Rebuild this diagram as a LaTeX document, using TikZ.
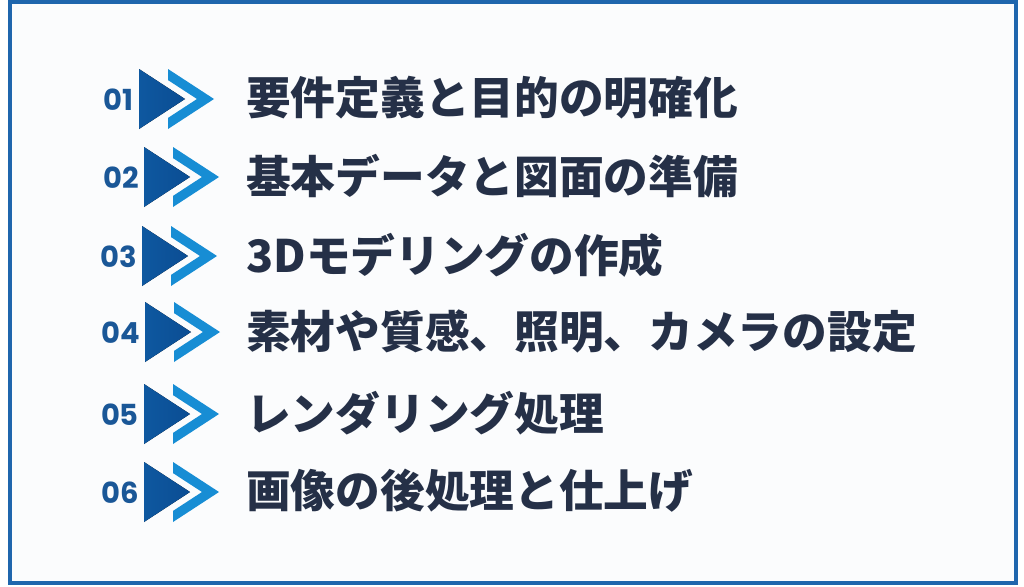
\documentclass[tikz,border=0pt]{standalone}
\usepackage{fontspec}
\newfontfamily\jp{Noto Sans CJK JP}
\newfontfamily\numfont{Poppins}
\definecolor{frameblue}{HTML}{1F66AD}
\definecolor{tridark}{HTML}{0B4D93}
\definecolor{trilight}{HTML}{0E58A0}
\definecolor{chev}{HTML}{178DD4}
\definecolor{numblue}{HTML}{1A5797}
\definecolor{txt}{HTML}{253047}
\definecolor{bg}{HTML}{FBFCFD}
\tikzset{
  numlabel/.style={anchor=east, inner sep=0pt, text=numblue, font=\numfont\bfseries\fontsize{29}{29}\selectfont},
  steplabel/.style={anchor=west, inner sep=0pt, text=txt, font=\jp\bfseries\fontsize{44.7}{44.7}\selectfont},
  trishape/.style={left color=trilight, right color=tridark, draw=none},
  chevshape/.style={fill=chev, draw=none},
  pics/doublearrow/.style={code={
    \fill[trishape] (0,-30) -- (46,0) -- (0,30) -- cycle;
    \fill[chevshape] (29,-30) -- (75,0) -- (29,30) -- (29,18.9) -- (58,0) -- (29,-18.9) -- cycle;
  }}
}
\begin{document}
\begin{tikzpicture}[x=1pt,y=-1pt]
\useasboundingbox (0,0) rectangle (1024,586);
\fill[white] (0,0) rectangle (1024,586);
\draw[frameblue, line width=4pt, fill=bg] (10,2) rectangle (1016,583);
\foreach \n/\tx/\cy/\lab [count=\i] in {
  01/139/99/要件定義と目的の明確化,
  02/144/177/基本データと図面の準備,
  03/142/256/3Dモデリングの作成,
  04/145/332/素材や質感、照明、カメラの設定,
  05/144/414/レンダリング処理,
  06/144/492/画像の後処理と仕上げ}{
  \pic at (\tx,\cy) {doublearrow};
  \node[numlabel] (num\i) at (\tx-5,\cy+1) {\n};
  \node[steplabel] (lab\i) at (246,\cy-1) {\lab};
}
\end{tikzpicture}
\end{document}
